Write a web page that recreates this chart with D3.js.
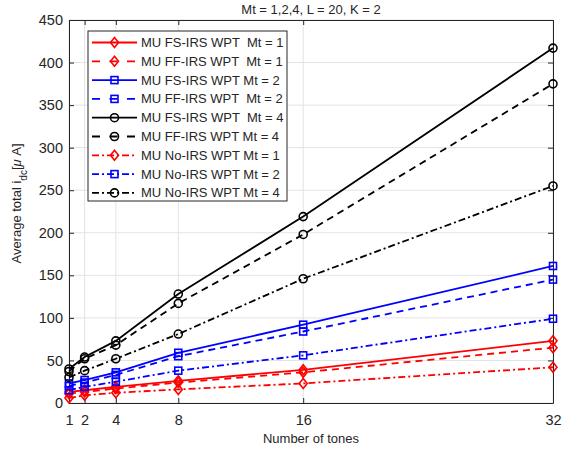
<!DOCTYPE html>
<html>
<head>
<meta charset="utf-8">
<script src="https://cdn.jsdelivr.net/npm/d3@7"></script>
<style>
  body { margin: 0; background: #fff; }
  svg text { font-family: "Liberation Sans", Arial, sans-serif; fill: #262626; }
</style>
</head>
<body>
<div id="chart"></div>
<script>
// number of tones
let tones = [1, 2, 4, 8, 16, 32];
let yTicks = [0, 50, 100, 150, 200, 250, 300, 350, 400, 450];

// average total i_dc in uA
let fsMt1 = [13, 15, 19, 26, 39, 73];
let ffMt1 = [11, 13, 17, 24, 36, 65];
let fsMt2 = [23, 27, 36, 59, 92, 161];
let ffMt2 = [20, 24, 33, 55, 84, 145];
let fsMt4 = [40, 54, 73, 128, 219, 417];
let ffMt4 = [37, 52, 68, 117, 198, 375];
let noMt1 = [6, 9, 12, 16, 23, 42];
let noMt2 = [15, 19, 25, 38, 56, 99];
let noMt4 = [30, 38, 52, 81, 146, 255];

let series = [
  {name: "MU FS-IRS WPT  Mt = 1", values: fsMt1, color: "#ff0000", dash: null, marker: "diamond"},
  {name: "MU FF-IRS WPT  Mt = 1", values: ffMt1, color: "#ff0000", dash: "7,5", marker: "diamond"},
  {name: "MU FS-IRS WPT Mt = 2", values: fsMt2, color: "#0000ff", dash: null, marker: "square"},
  {name: "MU FF-IRS WPT  Mt = 2", values: ffMt2, color: "#0000ff", dash: "7,5", marker: "square"},
  {name: "MU FS-IRS WPT  Mt = 4", values: fsMt4, color: "#000000", dash: null, marker: "circle"},
  {name: "MU FF-IRS WPT Mt = 4", values: ffMt4, color: "#000000", dash: "7,5", marker: "circle"},
  {name: "MU No-IRS WPT Mt = 1", values: noMt1, color: "#ff0000", dash: "7,3,2,3", marker: "diamond"},
  {name: "MU No-IRS WPT Mt = 2", values: noMt2, color: "#0000ff", dash: "7,3,2,3", marker: "square"},
  {name: "MU No-IRS WPT Mt = 4", values: noMt4, color: "#000000", dash: "7,3,2,3", marker: "circle"}
];

let margin = {top: 20, right: 11, bottom: 48, left: 69},
  width = 564 - margin.left - margin.right,
  height = 451 - margin.top - margin.bottom;

let svg = d3.select("#chart").append("svg")
  .attr("width", 564)
  .attr("height", 451);

let g = svg.append("g")
  .attr("transform", "translate(" + margin.left + "," + margin.top + ")");

let x = d3.scaleLinear().domain([1, 32]).range([0, width]);
let y = d3.scaleLinear().domain([0, 450]).range([height, 0]);

// grid
g.append("g").selectAll("line")
  .data(tones).enter().append("line")
  .attr("x1", d => x(d)).attr("x2", d => x(d))
  .attr("y1", 0).attr("y2", height)
  .attr("stroke", "#e3e3e3").attr("stroke-width", 1);
g.append("g").selectAll("line")
  .data(yTicks).enter().append("line")
  .attr("x1", 0).attr("x2", width)
  .attr("y1", d => y(d)).attr("y2", d => y(d))
  .attr("stroke", "#e3e3e3").attr("stroke-width", 1);

// axes (ticks inward, box on)
let xAxis = g.append("g")
  .attr("transform", "translate(0," + height + ")")
  .call(d3.axisBottom(x).tickValues(tones).tickSize(-5).tickPadding(12).tickSizeOuter(0));
let xTop = g.append("g")
  .call(d3.axisTop(x).tickValues(tones).tickSize(-5).tickFormat("").tickSizeOuter(0));
let yAxis = g.append("g")
  .call(d3.axisLeft(y).tickValues(yTicks).tickSize(-5).tickPadding(6).tickSizeOuter(0));
let yRight = g.append("g")
  .attr("transform", "translate(" + width + ",0)")
  .call(d3.axisRight(y).tickValues(yTicks).tickSize(-5).tickFormat("").tickSizeOuter(0));

[xAxis, xTop, yAxis, yRight].forEach(function (a) {
  a.select(".domain").attr("stroke", "#262626").attr("stroke-width", 1);
  a.selectAll(".tick line").attr("stroke", "#262626");
  a.selectAll(".tick text").style("font-size", "14.5px").attr("fill", "#262626")
    .style("font-family", "'Liberation Sans', Arial, sans-serif");
});

// lines
let line = d3.line()
  .x((d, i) => x(tones[i]))
  .y(d => y(d));

function drawMarker(sel, type, color) {
  if (type === "diamond") {
    sel.append("path").attr("d", "M0,-5L4,0L0,5L-4,0Z");
  } else if (type === "square") {
    sel.append("rect").attr("x", -3.5).attr("y", -3.5).attr("width", 7).attr("height", 7);
  } else {
    sel.append("circle").attr("r", 4);
  }
  sel.selectAll("path,rect,circle")
    .attr("fill", "none").attr("stroke", color).attr("stroke-width", 1.6);
}

series.forEach(function (s) {
  g.append("path")
    .datum(s.values)
    .attr("d", line)
    .attr("fill", "none")
    .attr("stroke", s.color)
    .attr("stroke-width", 1.8)
    .attr("stroke-dasharray", s.dash);
  g.selectAll(null)
    .data(s.values).enter().append("g")
    .attr("transform", (d, i) => "translate(" + x(tones[i]) + "," + y(d) + ")")
    .each(function () { drawMarker(d3.select(this), s.marker, s.color); });
});

// legend
let legend = svg.append("g").attr("transform", "translate(88,31)");
legend.append("rect")
  .attr("width", 199).attr("height", 170)
  .attr("fill", "#fff").attr("stroke", "#262626").attr("stroke-width", 1);
series.forEach(function (s, i) {
  let ly = 11.5 + i * 18.8;
  let item = legend.append("g").attr("transform", "translate(0," + ly + ")");
  item.append("line")
    .attr("x1", 4).attr("x2", 49).attr("y1", 0).attr("y2", 0)
    .attr("stroke", s.color).attr("stroke-width", 1.8)
    .attr("stroke-dasharray", s.dash ? (s.dash === "7,5" ? "8,9.5" : "7,3,2,3") : null);
  let m = item.append("g").attr("transform", "translate(26.5,0)");
  drawMarker(m, s.marker, s.color);
  item.append("text")
    .attr("x", 53).attr("y", 4.5)
    .attr("xml:space", "preserve")
    .style("white-space", "pre")
    .style("font-size", "13px")
    .text(s.name);
});

// title
svg.append("text")
  .attr("x", margin.left + width / 2).attr("y", 14)
  .attr("text-anchor", "middle")
  .style("font-size", "13px")
  .text("Mt = 1,2,4, L = 20, K = 2");

// x label
svg.append("text")
  .attr("x", margin.left + width / 2).attr("y", 443)
  .attr("text-anchor", "middle")
  .style("font-size", "13px")
  .text("Number of tones");

// y label
let yl = svg.append("text")
  .attr("transform", "translate(21," + (margin.top + height / 2 - 8) + ") rotate(-90)")
  .attr("text-anchor", "middle")
  .style("font-size", "13px");
yl.append("tspan").text("Average total i");
yl.append("tspan").attr("baseline-shift", "sub").style("font-size", "10px").text("dc");
yl.append("tspan").text("[");
yl.append("tspan").style("font-style", "italic").text("\u03bc");
yl.append("tspan").text(" A]");
</script>
</body>
</html>
